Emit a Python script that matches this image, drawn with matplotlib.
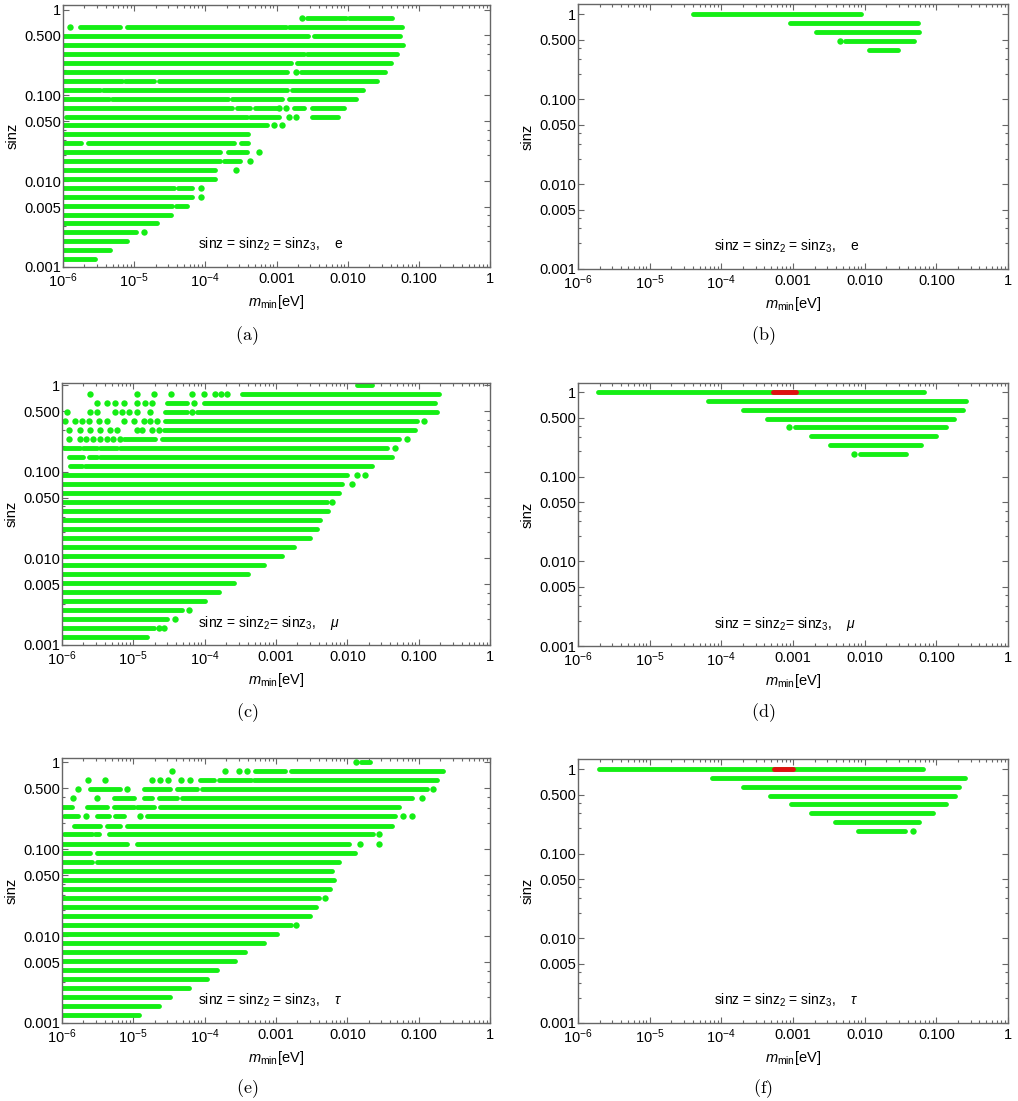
import matplotlib
matplotlib.use("Agg")
import matplotlib.pyplot as plt
from matplotlib.ticker import FixedLocator, LogLocator, NullFormatter

plt.rcParams["font.family"] = ["Liberation Sans", "DejaVu Sans"]
plt.rcParams["mathtext.fontset"] = "custom"
plt.rcParams["mathtext.rm"] = "Liberation Sans"
plt.rcParams["mathtext.it"] = "Liberation Sans:italic"
plt.rcParams["mathtext.bf"] = "Liberation Sans:bold"

GREEN = "#14ee14"
RED = "#e01010"

# sinz grid levels (index 0 = 1.0, evenly spaced in log)
LEVELS = [1.0, 0.787, 0.620, 0.488, 0.384, 0.302, 0.238, 0.187, 0.148, 0.116,
          0.0914, 0.0720, 0.0567, 0.0446, 0.0351, 0.0277, 0.0218, 0.0171, 0.0135,
          0.0106, 0.00838, 0.00660, 0.00519, 0.00409, 0.00322, 0.00253, 0.00200,
          0.00157, 0.00124]

X_TICKS = [1e-6, 1e-5, 1e-4, 1e-3, 1e-2, 1e-1, 1.0]
X_LABELS = ["$10^{-6}$", "$10^{-5}$", "$10^{-4}$", "0.001", "0.010", "0.100", "1"]
Y_TICKS = [0.001, 0.005, 0.01, 0.05, 0.1, 0.5, 1.0]
Y_LABELS = ["0.001", "0.005", "0.010", "0.050", "0.100", "0.500", "1"]

# panel (a): e, all three equal
SEGS_A = [(1, 2.7e-3, 9.6e-3), (1, 1.06e-2, 4.2e-2),
          (2, 1.73e-6, 6.4e-6), (2, 7.9e-6, 1.34e-3), (2, 1.5e-3, 5.8e-2),
          (3, 1e-6, 2.73e-3), (3, 3.4e-3, 5.5e-2),
          (4, 1e-6, 5.9e-2),
          (5, 1e-6, 2.45e-3), (5, 2.7e-3, 4.9e-2),
          (6, 1e-6, 1.58e-3), (6, 1.97e-3, 4.0e-2),
          (7, 1e-6, 1.41e-3), (7, 2.2e-3, 3.4e-2),
          (8, 1e-6, 6.7e-6), (8, 7.5e-6, 1.9e-5), (8, 2.2e-5, 1.5e-3), (8, 1.62e-3, 2.6e-2),
          (9, 1e-6, 3.3e-6), (9, 3.7e-6, 1.41e-3), (9, 1.66e-3, 1.65e-2),
          (10, 1e-6, 4.4e-6), (10, 4.9e-6, 2.1e-4), (10, 2.35e-4, 1.2e-3), (10, 1.5e-3, 1.32e-2),
          (11, 1e-6, 2.35e-4), (11, 2.75e-4, 4.2e-4), (11, 5.0e-4, 1.0e-3),
          (11, 1.75e-3, 2.4e-3), (11, 3.2e-3, 9.0e-3),
          (12, 1.1e-6, 3.8e-4), (12, 4.25e-4, 1.1e-3), (12, 3.2e-3, 7.2e-3),
          (13, 1e-6, 7.3e-4),
          (14, 1e-6, 4.0e-4),
          (15, 1e-6, 1.8e-6), (15, 2.27e-6, 2.5e-4), (15, 3.2e-4, 4.0e-4),
          (16, 1e-6, 1.6e-4), (16, 2.1e-4, 3.8e-4),
          (17, 1e-6, 1.6e-4), (17, 1.8e-4, 3.1e-4),
          (18, 1e-6, 1.36e-4),
          (19, 1e-6, 1.36e-4),
          (20, 1e-6, 3.6e-5), (20, 4.1e-5, 6.6e-5),
          (21, 1e-6, 6.6e-5),
          (22, 1e-6, 3.45e-5), (22, 3.9e-5, 5.6e-5),
          (23, 1e-6, 3.3e-5),
          (24, 1e-6, 2.1e-5),
          (25, 1e-6, 1.05e-5),
          (26, 1e-6, 8e-6),
          (27, 1e-6, 4.6e-6),
          (28, 1e-6, 2.8e-6)]
DOTS_A = {1: [2.3e-3], 2: [1.24e-6], 7: [1.85e-3], 11: [1.1e-3, 1.34e-3],
          12: [1.5e-3, 1.85e-3], 13: [9.1e-4, 1.2e-3], 16: [5.6e-4], 17: [4.3e-4],
          18: [2.7e-4], 20: [8.8e-5], 21: [8.8e-5], 25: [1.37e-5]}

# panel (b)
SEGS_B = [(0, 4.0e-5, 8.9e-3), (1, 9.0e-4, 5.55e-2), (2, 2.1e-3, 5.8e-2),
          (3, 5.27e-3, 4.95e-2), (4, 1.14e-2, 2.91e-2)]
DOTS_B = {3: [4.6e-3]}

# panel (c): mu
SEGS_C = [(0, 1.37e-2, 2.2e-2),
          (1, 3.34e-4, 0.19),
          (2, 2.95e-5, 5.6e-5), (2, 9.7e-5, 0.171),
          (3, 2.8e-5, 5.6e-5), (3, 7.8e-5, 0.18),
          (4, 2.8e-5, 0.095),
          (5, 2.67e-5, 0.09),
          (6, 7.3e-6, 2.0e-5), (6, 2.5e-5, 0.0525),
          (7, 1.05e-6, 1.8e-6), (7, 2.0e-6, 3.1e-6), (7, 3.45e-6, 5.9e-6), (7, 6.6e-6, 0.036),
          (8, 1.24e-6, 2.0e-6), (8, 2.37e-6, 3.1e-6), (8, 3.45e-6, 0.042),
          (9, 1.3e-6, 1.9e-6), (9, 2.1e-6, 0.022),
          (10, 1e-6, 0.0099), (11, 1e-6, 0.0085), (12, 1e-6, 0.0076),
          (13, 1e-6, 0.0052), (14, 1e-6, 0.0054), (15, 1e-6, 0.0042),
          (16, 1e-6, 0.0037), (17, 1e-6, 0.0030), (18, 1e-6, 0.00177),
          (19, 1e-6, 0.00121), (20, 1e-6, 6.7e-4), (21, 1e-6, 4.1e-4),
          (22, 1e-6, 2.55e-4), (23, 1e-6, 1.57e-4), (24, 1e-6, 1.02e-4),
          (25, 1e-6, 4.8e-5), (26, 1e-6, 2.95e-5), (27, 1e-6, 1.93e-5),
          (28, 1e-6, 1.55e-5)]
DOTS_C = {1: [2.44e-6, 1.12e-5, 1.93e-5, 3.38e-5, 6.6e-5, 9.7e-5, 1.41e-4, 1.67e-4, 2.06e-4],
          2: [3.1e-6, 4.3e-6, 5.6e-6, 7.3e-6, 1.12e-5, 1.47e-5, 1.83e-5, 7.0e-5],
          3: [1.17e-6, 2.5e-6, 3.1e-6, 5.6e-6, 6.9e-6, 8.6e-6, 1.12e-5, 1.73e-5, 6.6e-5],
          4: [1.11e-6, 1.54e-6, 1.9e-6, 2.37e-6, 3.27e-6, 4.27e-6, 7.3e-6, 1.01e-5,
              1.4e-5, 1.73e-5, 2.15e-5, 0.117],
          5: [1.24e-6, 1.8e-6, 2.5e-6, 3.45e-6, 4.76e-6, 5.9e-6, 1.12e-5, 1.32e-5,
              1.83e-5, 2.3e-5],
          6: [1.24e-6, 1.8e-6, 2.2e-6, 2.7e-6, 3.45e-6, 4.3e-6, 5.2e-6, 6.4e-6, 0.069],
          7: [0.047], 10: [0.0137, 0.0178], 11: [0.0115], 13: [0.0061],
          25: [6.0e-5], 26: [3.9e-5], 27: [2.3e-5, 2.67e-5]}

# panel (d)
SEGS_D = [(0, 1.9e-6, 0.067), (1, 6.6e-5, 0.256), (2, 1.99e-4, 0.236),
          (3, 4.4e-4, 0.176), (4, 1.07e-3, 0.135), (5, 1.78e-3, 0.1),
          (6, 3.3e-3, 0.0614), (7, 8.5e-3, 0.0383)]
DOTS_D = {4: [8.9e-4], 7: [7.2e-3]}
RED_D = [(0, 5.3e-4, 1.1e-3)]

# panel (e): tau
SEGS_E = [(0, 1.55e-2, 2.1e-2),
          (1, 5.1e-4, 1.35e-3), (1, 1.6e-3, 0.219),
          (2, 8.7e-5, 1.34e-4), (2, 1.57e-4, 4.4e-4), (2, 4.9e-4, 0.18),
          (3, 2.5e-6, 6.6e-6), (3, 1.4e-5, 3.3e-5), (3, 4.1e-5, 7.8e-5), (3, 9.2e-5, 0.13),
          (4, 5.3e-6, 1.01e-5), (4, 1.4e-5, 1.83e-5), (4, 2.27e-5, 4.1e-5), (4, 4.8e-5, 0.081),
          (5, 1e-6, 1.38e-6), (5, 2.24e-6, 4.27e-6), (5, 5.3e-6, 1.01e-5),
          (5, 1.12e-5, 1.93e-5), (5, 2.4e-5, 0.0525),
          (6, 1.05e-6, 1.7e-6), (6, 3.1e-6, 4.5e-6), (6, 5.5e-6, 7.5e-6), (6, 1.55e-5, 0.047),
          (7, 1.46e-6, 3.45e-6), (7, 4.27e-6, 6.6e-6), (7, 8.1e-6, 0.042),
          (8, 1.05e-6, 2.63e-6), (8, 2.9e-6, 3.27e-6), (8, 4.5e-6, 0.023),
          (9, 1e-6, 8.1e-6), (9, 1.12e-5, 0.0104),
          (10, 1e-6, 2.5e-6), (10, 3.1e-6, 0.013),
          (11, 1e-6, 2.63e-6), (11, 3.1e-6, 0.0076),
          (12, 1e-6, 0.0061), (13, 1e-6, 0.0064), (14, 1e-6, 0.0058),
          (15, 1e-6, 0.0040), (16, 1e-6, 0.0036), (17, 1e-6, 0.0030),
          (18, 1e-6, 0.0016), (19, 1e-6, 0.00103), (20, 1e-6, 6.7e-4),
          (21, 1e-6, 3.7e-4), (22, 1e-6, 2.7e-4), (23, 1e-6, 1.49e-4),
          (24, 1e-6, 1.08e-4), (25, 1e-6, 6.0e-5), (26, 1e-6, 3.3e-5),
          (27, 1e-6, 2.27e-5), (28, 1e-6, 1.19e-5)]
DOTS_E = {0: [0.0131],
          1: [3.5e-5, 1.94e-4, 3.0e-4, 3.9e-4],
          2: [2.3e-6, 4.05e-6, 1.83e-5, 2.4e-5, 3.1e-5, 4.6e-5, 6.3e-5],
          3: [1.7e-6, 8.1e-6, 0.16],
          4: [1.43e-6, 3.1e-6, 0.11],
          6: [2.2e-6, 1.25e-5, 0.061, 0.081],
          8: [0.028], 9: [0.0152, 0.028], 15: [0.0049], 18: [0.0019]}

# panel (f)
SEGS_F = [(0, 1.97e-6, 0.065), (1, 7.3e-5, 0.25), (2, 2.0e-4, 0.21),
          (3, 4.8e-4, 0.18), (4, 9.5e-4, 0.138), (5, 1.8e-3, 0.089),
          (6, 3.9e-3, 0.058), (7, 8.1e-3, 0.037)]
DOTS_F = {7: [0.047]}
RED_F = [(0, 5.5e-4, 1.0e-3)]

W, H = 1018, 1101
# (left, top, right, bottom) in pixels
BOXES = {"a": (63, 5, 490, 267), "b": (578, 4, 1008, 269),
         "c": (62, 383, 490, 645), "d": (578, 383, 1008, 646),
         "e": (62, 758, 490, 1023), "f": (578, 759, 1008, 1023)}
YTOPS = {"a": 1.13, "b": 1.32, "c": 1.06, "d": 1.29, "e": 1.12, "f": 1.32}
NOTES = {"a": "sinz = sinz$_2$ = sinz$_3$,    e",
         "b": "sinz = sinz$_2$ = sinz$_3$,    e",
         "c": "sinz = sinz$_2$= sinz$_3$,    $\\mu$",
         "d": "sinz = sinz$_2$= sinz$_3$,    $\\mu$",
         "e": "sinz = sinz$_2$ = sinz$_3$,    $\\tau$",
         "f": "sinz = sinz$_2$ = sinz$_3$,    $\\tau$"}
CAPTION_Y = {"a": 336, "b": 336, "c": 713, "d": 713, "e": 1089, "f": 1089}

PANELS = {"a": (SEGS_A, DOTS_A, []), "b": (SEGS_B, DOTS_B, []),
          "c": (SEGS_C, DOTS_C, []), "d": (SEGS_D, DOTS_D, RED_D),
          "e": (SEGS_E, DOTS_E, []), "f": (SEGS_F, DOTS_F, RED_F)}


def draw_panel(fig, key):
    l, t, r, b = BOXES[key]
    ax = fig.add_axes([l / W, 1 - b / H, (r - l) / W, (b - t) / H])
    segs, dots, reds = PANELS[key]
    for lev, x0, x1 in segs:
        ax.plot([x0, x1], [LEVELS[lev], LEVELS[lev]], color=GREEN, lw=3.5,
                solid_capstyle="round", zorder=2)
    for lev, xs in dots.items():
        ax.plot(xs, [LEVELS[lev]] * len(xs), "o", ms=4.6, color=GREEN, mec="none", zorder=2)
    for lev, x0, x1 in reds:
        ax.plot([x0, x1], [LEVELS[lev], LEVELS[lev]], color=RED, lw=3.5,
                solid_capstyle="round", zorder=3)

    ax.set_xscale("log")
    ax.set_yscale("log")
    ax.set_xlim(1e-6, 1.0)
    ax.set_ylim(0.001, YTOPS[key])
    ax.xaxis.set_major_locator(FixedLocator(X_TICKS))
    ax.set_xticklabels(X_LABELS)
    ax.yaxis.set_major_locator(FixedLocator(Y_TICKS))
    ax.set_yticklabels(Y_LABELS)
    ax.xaxis.set_minor_locator(LogLocator(base=10, subs=range(2, 10), numticks=20))
    ax.yaxis.set_minor_locator(FixedLocator([0.002, 0.003, 0.004, 0.02, 0.03, 0.04,
                                             0.2, 0.3, 0.4]))
    ax.xaxis.set_minor_formatter(NullFormatter())
    ax.yaxis.set_minor_formatter(NullFormatter())
    ax.tick_params(which="both", direction="in", top=True, right=True,
                   color="#666666", labelcolor="black", labelsize=10.5, width=0.8)
    ax.tick_params(axis="y", which="major", length=4.5, pad=1.5)
    ax.tick_params(axis="x", which="major", length=4.5, pad=3.5)
    ax.tick_params(which="minor", length=2.5)
    for sp in ax.spines.values():
        sp.set_color("#666666")
        sp.set_linewidth(1.0)

    ax.set_xlabel("$m_{\\mathrm{min}}$[eV]", fontsize=10.5, labelpad=2)
    ax.set_ylabel("sinz", fontsize=10.5, labelpad=3)
    ax.text(0.317, 0.085, NOTES[key], transform=ax.transAxes, fontsize=10,
            ha="left", va="center")
    cx = 247 if key in "ace" else 763
    fig.text(cx / W, 1 - CAPTION_Y[key] / H, "$\\mathrm{(" + key + ")}$",
             math_fontfamily="cm", fontsize=13, ha="center", va="center")
    return ax


fig = plt.figure(figsize=(W / 100, H / 100), dpi=100)
for k in "abcdef":
    draw_panel(fig, k)
fig.savefig("out.png", dpi=100, facecolor="white")
